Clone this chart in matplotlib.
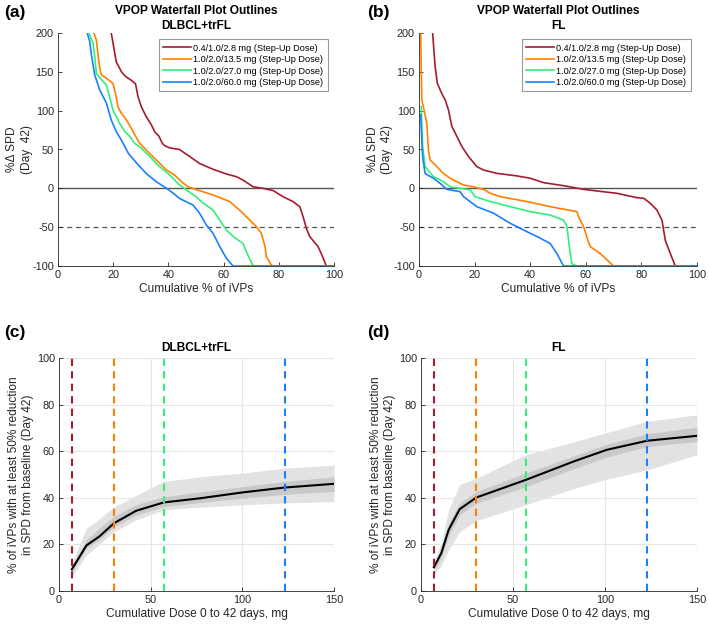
import numpy as np
import matplotlib
matplotlib.use('Agg')
import matplotlib.pyplot as plt

plt.rcParams['font.family'] = ['Liberation Sans', 'DejaVu Sans']
plt.rcParams['font.size'] = 8.6
plt.rcParams['axes.unicode_minus'] = False

# regimens and colours
labels = ['0.4/1.0/2.8 mg (Step-Up Dose)', '1.0/2.0/13.5 mg (Step-Up Dose)',
          '1.0/2.0/27.0 mg (Step-Up Dose)', '1.0/2.0/60.0 mg (Step-Up Dose)']
colors = ['#A51C30', '#FF8000', '#33EE77', '#1A80FF']
cum_dose = [7, 30, 57, 123]

# waterfall outlines, DLBCL+trFL
a_red_x = [19.3, 21.1, 23.0, 24.5, 26.6, 28.1, 29.0, 30.2, 32.0, 33.8, 35.0, 36.6, 37.8, 38.6, 40.5,
           44.0, 47.7, 51.3, 56.2, 61.0, 64.6, 67.0, 70.7, 74.3, 78.0, 81.5, 85.1, 87.6, 88.8, 90.0,
           91.2, 94.2, 95.4, 96.6, 97.2, 100]
a_red_y = [200, 163, 150, 144, 139, 134.5, 118, 105, 92, 82, 73, 67, 58, 55, 52,
           50, 41, 32, 24.5, 18.5, 15, 10.7, 2, 0, -3, -10.7, -17, -23.6, -36.5, -51.6,
           -62, -75, -84, -94.5, -100, -100]
a_orange_x = [13.0, 13.9, 14.5, 15.1, 15.7, 17.5, 19.9, 21.1, 21.7, 22.9, 24.8, 26.6, 27.8, 29.6,
              32.6, 35.6, 39.3, 42.3, 44.7, 47.1, 51.3, 56.2, 62.2, 65.8, 69.5, 71.9, 73.7, 75.0,
              75.5, 77.3, 78.5, 100]
a_orange_y = [200, 191, 172, 155, 146, 142, 135, 118, 105, 97, 88, 77, 69, 58,
              47, 36.5, 23.6, 17, 8.6, 2, -3, -8.6, -17, -28, -41, -49.4, -58, -75,
              -88, -99, -100, -100]
a_green_x = [11.2, 12.7, 13.3, 13.9, 15.7, 17.5, 18.7, 19.9, 22.3, 24.2, 26.0, 27.8, 30.2, 33.2,
             36.8, 40.5, 44.0, 46.5, 50.0, 52.6, 56.2, 58.6, 61.0, 63.5, 67.0, 68.8, 70.7, 100]
a_green_y = [200, 187, 170, 148, 140, 133, 118, 101, 84, 73, 67, 58, 51.6, 41,
             28, 17, 4.3, -2, -10.7, -19, -28, -41, -53.7, -62, -71, -86, -100, -100]
a_blue_x = [10.6, 11.5, 12.1, 13.3, 15.1, 17.5, 19.3, 21.1, 23.0, 25.5, 28.6, 32.0, 35.6, 39.3,
            41.8, 44.0, 48.9, 51.3, 53.7, 56.2, 58.6, 61.0, 63.4, 100]
a_blue_y = [200, 189, 172, 146, 127, 110, 88, 73, 62, 45, 32, 19, 8.6, 0,
            -6.4, -13, -21.5, -32, -47, -58, -75, -90, -100, -100]

# waterfall outlines, FL
b_red_x = [4.9, 5.8, 6.6, 8.2, 9.4, 10.6, 11.8, 13.6, 15.4, 17.8, 20.8, 23.2, 28.0, 35.2, 40.0,
           44.8, 52.0, 59.2, 64.0, 71.2, 78.4, 80.9, 83.2, 85.6, 87.4, 88.6, 90.4, 92.2, 100]
b_red_y = [200, 157, 135, 122, 114, 101, 80, 67, 54, 41, 28, 23.6, 19.3, 16, 13,
           7.3, 3.4, -1.3, -3.4, -6.4, -12, -12.9, -19.3, -28, -41, -67, -84, -100, -100]
b_orange_x = [0.6, 1.0, 1.8, 2.8, 3.4, 4.0, 6.4, 8.8, 11.2, 13.6, 16.0, 19.5, 23.2, 25.7, 29.2,
              38.8, 47.2, 56.8, 57.4, 59.2, 60.7, 61.6, 65.2, 67.6, 70.0, 100]
b_orange_y = [200, 114, 101, 84, 49, 36.5, 28, 19, 13, 8.6, 4.3, 2, -1.3, -6.4, -10.7,
              -17, -23.6, -30, -36.5, -49.4, -66.5, -75, -84, -92, -100, -100]
b_green_x = [0.8, 1.3, 2.2, 5.2, 8.8, 11.2, 14.8, 18.4, 20.2, 25.6, 32.8, 40.0, 47.2, 52.0, 53.2,
             54.4, 55.0, 56.8, 100]
b_green_y = [105, 54, 28, 15, 8.6, 2, 0, -2, -10.7, -17, -23.6, -30, -34.4, -41, -49.4,
             -84, -97, -100, -100]
b_blue_x = [0.6, 1.3, 2.2, 5.2, 7.6, 10.0, 14.8, 16.0, 20.8, 26.8, 32.8, 37.6, 42.4, 47.2, 49.6,
            52.0, 100]
b_blue_y = [95, 41, 19, 13, 6.4, -1.3, -4.3, -10.7, -23.6, -32, -45, -53.7, -62, -71, -84,
            -100, -100]

# response vs cumulative dose, DLBCL+trFL
c_dose = [7, 15, 22, 30, 42, 57, 77, 100, 123, 150]
c_med = [9.3, 19.6, 23.4, 29.1, 34.4, 38.0, 39.8, 42.3, 44.4, 46.0]
c_lo95 = [6.2, 15.5, 20.0, 25.5, 30.5, 34.8, 36.0, 37.0, 37.8, 38.4]
c_hi95 = [11.9, 27.0, 31.0, 36.0, 41.0, 47.0, 49.0, 50.6, 52.7, 54.0]
c_lo50 = [8.3, 18.3, 22.0, 27.6, 32.5, 36.2, 38.0, 39.8, 41.5, 42.7]
c_hi50 = [10.5, 22.0, 27.0, 32.0, 37.0, 40.5, 42.5, 44.8, 47.0, 49.0]

# response vs cumulative dose, FL
d_dose = [7, 11, 15, 21, 30, 57, 83, 101, 123, 150]
d_med = [10.2, 16.2, 26.2, 35.1, 40.1, 47.7, 55.6, 60.6, 64.5, 66.6]
d_lo95 = [6.9, 11.0, 17.6, 25.5, 30.2, 37.0, 44.0, 48.0, 52.0, 58.5]
d_hi95 = [12.6, 20.5, 34.8, 45.6, 48.4, 58.5, 64.0, 68.0, 72.8, 75.6]
d_lo50 = [9.0, 14.0, 23.4, 32.7, 37.7, 44.8, 52.5, 57.5, 62.0, 64.2]
d_hi50 = [11.2, 18.0, 29.0, 37.7, 42.7, 50.6, 58.0, 63.0, 67.5, 70.3]

txt = '#262626'
W, H = 709, 629
fig = plt.figure(figsize=(W / 100, H / 100), dpi=100)


def box(l, t, r, b):
    return [l / W, 1 - b / H, (r - l) / W, (b - t) / H]


def style(ax):
    for s in ['top', 'right']:
        ax.spines[s].set_visible(False)
    for s in ['left', 'bottom']:
        ax.spines[s].set_color(txt)
        ax.spines[s].set_linewidth(0.6)
    ax.tick_params(direction='in', length=3, width=0.6, colors=txt, labelsize=7.8, pad=3)


def waterfall(ax, curves, subtitle):
    style(ax)
    ax.axhline(0, color='#555555', lw=1.0, zorder=1)
    ax.axhline(-50, color='#555555', lw=0.9, ls=(0, (4, 3)), zorder=1)
    for (x, y), c, lab in zip(curves, colors, labels):
        ax.plot(x, y, color=c, lw=1.2, label=lab, zorder=2)
    ax.set_xlim(0, 100)
    ax.set_ylim(-100, 200)
    ax.set_xticks([0, 20, 40, 60, 80, 100])
    ax.set_yticks([-100, -50, 0, 50, 100, 150, 200])
    ax.set_xlabel('Cumulative % of iVPs', color=txt, labelpad=2)
    ax.set_ylabel('%\u0394 SPD\n(Day  42)', color=txt, linespacing=1.25)
    ax.yaxis.set_label_coords(-0.092, 0.5)
    ax.set_title('VPOP Waterfall Plot Outlines\n' + subtitle, fontweight='bold',
                 fontsize=8.6, color='black', pad=3, linespacing=1.3)
    leg = ax.legend(loc='upper right', fontsize=6.6, frameon=True, fancybox=False,
                    handlelength=3.0, handletextpad=0.3, labelspacing=0.28,
                    borderpad=0.45, borderaxespad=0.7)
    leg.get_frame().set_edgecolor('#808080')
    leg.get_frame().set_linewidth(0.8)


def response(ax, dose, med, lo95, hi95, lo50, hi50, subtitle):
    style(ax)
    ax.grid(True, color='#e6e6e6', lw=0.8, zorder=0)
    ax.fill_between(dose, lo95, hi95, color='#e2e2e2', lw=0, zorder=1)
    ax.fill_between(dose, lo50, hi50, color='#c9c9c9', lw=0, zorder=2)
    ax.plot(dose, med, color='black', lw=1.5, zorder=3)
    for d, c in zip(cum_dose, colors):
        ax.axvline(d, color=c, lw=1.5, ls=(0, (3.5, 2.5)), zorder=4)
    ax.set_xlim(0, 150)
    ax.set_ylim(0, 100)
    ax.set_xticks([0, 50, 100, 150])
    ax.set_yticks([0, 20, 40, 60, 80, 100])
    ax.set_xlabel('Cumulative Dose 0 to 42 days, mg', color=txt, labelpad=2)
    ax.set_ylabel('% of iVPs with at least 50% reduction\nin SPD from baseline (Day 42)',
                  color=txt, linespacing=1.2)
    ax.yaxis.set_label_coords(-0.09, 0.5)
    ax.set_title(subtitle, fontweight='bold', fontsize=8.6, color='black', pad=5)


ax_a = fig.add_axes(box(58, 33, 334, 266))
waterfall(ax_a, [(a_red_x, a_red_y), (a_orange_x, a_orange_y),
                 (a_green_x, a_green_y), (a_blue_x, a_blue_y)], 'DLBCL+trFL')
ax_b = fig.add_axes(box(419, 33, 697, 266))
waterfall(ax_b, [(b_red_x, b_red_y), (b_orange_x, b_orange_y),
                 (b_green_x, b_green_y), (b_blue_x, b_blue_y)], 'FL')
ax_c = fig.add_axes(box(59, 358, 334, 591))
response(ax_c, c_dose, c_med, c_lo95, c_hi95, c_lo50, c_hi50, 'DLBCL+trFL')
ax_d = fig.add_axes(box(421, 358, 697, 591))
response(ax_d, d_dose, d_med, d_lo95, d_hi95, d_lo50, d_hi50, 'FL')

for lab, x, y in [('(a)', 4, 13), ('(b)', 367, 13), ('(c)', 4, 333), ('(d)', 367, 333)]:
    fig.text(x / W, 1 - y / H, lab, fontsize=12.5, fontweight='bold', va='center', ha='left')

fig.savefig('out.png', dpi=100)
